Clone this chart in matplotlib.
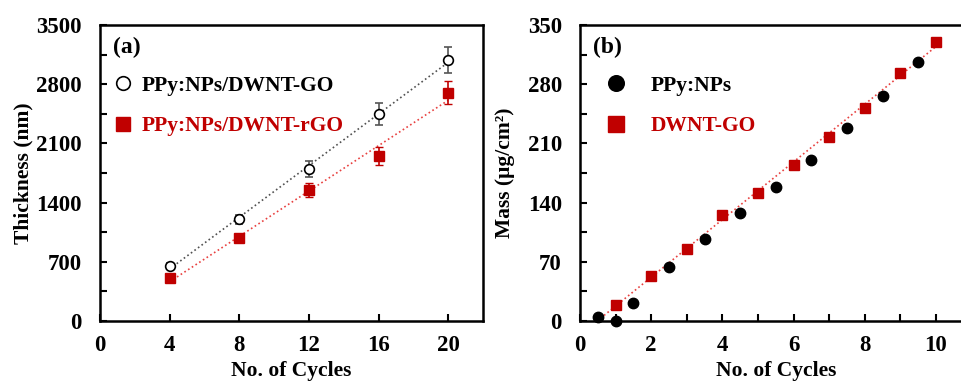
import matplotlib.pyplot as plt
from matplotlib.ticker import MultipleLocator
import numpy as np

plt.rcParams['font.family'] = ['Liberation Serif', 'DejaVu Serif']
plt.rcParams['font.weight'] = 'bold'

RED = '#c00000'

# (a) thickness vs cycles
cycles_a = [4, 8, 12, 16, 20]
thick_go = [654, 1202, 1797, 2444, 3086]
err_go = [30, 50, 95, 128, 154]
thick_rgo = [505, 977, 1549, 1951, 2700]
err_rgo = [20, 30, 83, 108, 138]

# (b) mass vs cycles
cycles_ppy = [0.5, 1.0, 1.5, 2.5, 3.5, 4.5, 5.5, 6.5, 7.5, 8.5, 9.5]
mass_ppy = [5, 0, 21.6, 64, 96.6, 128, 158, 190, 228.6, 266, 306.6]
cycles_go = [1, 2, 3, 4, 5, 6, 7, 8, 9, 10]
mass_go = [18.5, 53.2, 85, 125, 151.7, 184.8, 218, 251.5, 292.9, 330]


def style_axis(ax):
    for s in ax.spines.values():
        s.set_linewidth(1.8)
    ax.tick_params(which='both', direction='in', width=1.5, labelsize=16.5)
    ax.tick_params(axis='y', pad=13)
    ax.tick_params(axis='x', pad=10)
    ax.tick_params(which='both', length=5)
    for lab in ax.get_xticklabels() + ax.get_yticklabels():
        lab.set_fontweight('bold')


fig = plt.figure(figsize=(9.61, 3.81), dpi=100)
ax1 = fig.add_axes([0.104, 0.1575, 0.3986, 0.777])
ax2 = fig.add_axes([0.6035, 0.1575, 0.4075, 0.777])

# ---- panel (a)
xa = np.array(cycles_a)
p = np.polyfit(xa, thick_go, 1)
ax1.plot(xa, np.polyval(p, xa), ':', color='#505050', lw=1.2)
p = np.polyfit(xa, thick_rgo, 1)
ax1.plot(xa, np.polyval(p, xa), ':', color='#e8403f', lw=1.2)

ax1.errorbar(cycles_a, thick_go, yerr=err_go, fmt='o', mfc='white', mec='black',
             mew=1.2, ms=7, ecolor='#555555', elinewidth=1.2, capsize=3,
             label='PPy:NPs/DWNT-GO', zorder=3)
ax1.errorbar(cycles_a, thick_rgo, yerr=err_rgo, fmt='s', color=RED, ms=7,
             ecolor=RED, elinewidth=1.2, capsize=3,
             label='PPy:NPs/DWNT-rGO', zorder=3)

ax1.set_xlim(0, 22)
ax1.set_ylim(0, 3500)
ax1.set_xticks([0, 4, 8, 12, 16, 20])
ax1.set_yticks(np.arange(0, 3501, 700))
ax1.yaxis.set_minor_locator(MultipleLocator(350))
style_axis(ax1)
ax1.set_xlabel('No. of Cycles', fontsize=15.5, fontweight='bold', labelpad=4)
ax1.set_ylabel('Thickness (nm)', fontsize=15.5, fontweight='bold', labelpad=2)
ax1.text(0.033, 0.96, '(a)', transform=ax1.transAxes, fontsize=17,
         fontweight='bold', va='top')
handles, labels = ax1.get_legend_handles_labels()
ax1.legend([h[0] for h in handles], labels, loc='upper left',
           bbox_to_anchor=(-0.012, 0.88), frameon=False,
           labelcolor=['black', RED], handletextpad=0.25, handlelength=1.2,
           labelspacing=0.95, borderaxespad=0.3, markerscale=1.4,
           prop={'weight': 'bold', 'size': 15.5})

# ---- panel (b)
xg = np.array(cycles_go)
p = np.polyfit(xg, mass_go, 1)
x0 = -p[1] / p[0]
xl = np.array([x0, 10])
ax2.plot(xl, np.polyval(p, xl), ':', color='#e8403f', lw=1.2)
ax2.plot(cycles_ppy, mass_ppy, 'o', color='black', ms=7.5, label='PPy:NPs',
         clip_on=False, zorder=3)
ax2.plot(cycles_go, mass_go, 's', color=RED, ms=7.5, label='DWNT-GO', zorder=3)

ax2.set_xlim(0, 11)
ax2.set_ylim(0, 350)
ax2.set_xticks(np.arange(0, 11, 2))
ax2.xaxis.set_minor_locator(MultipleLocator(1))
ax2.set_yticks(np.arange(0, 351, 70))
ax2.yaxis.set_minor_locator(MultipleLocator(35))
style_axis(ax2)
ax2.set_xlabel('No. of Cycles', fontsize=15.5, fontweight='bold', labelpad=4)
ax2.set_ylabel('Mass (μg/cm²)', fontsize=15.5, fontweight='bold', labelpad=9)
ax2.text(0.033, 0.96, '(b)', transform=ax2.transAxes, fontsize=17,
         fontweight='bold', va='top')
ax2.legend(loc='upper left', bbox_to_anchor=(0.027, 0.88), frameon=False,
           labelcolor=['black', RED], handletextpad=1.1, handlelength=1.0,
           labelspacing=0.95, borderaxespad=0.3, markerscale=1.5,
           prop={'weight': 'bold', 'size': 15.5})

fig.savefig('out.png', dpi=100)
